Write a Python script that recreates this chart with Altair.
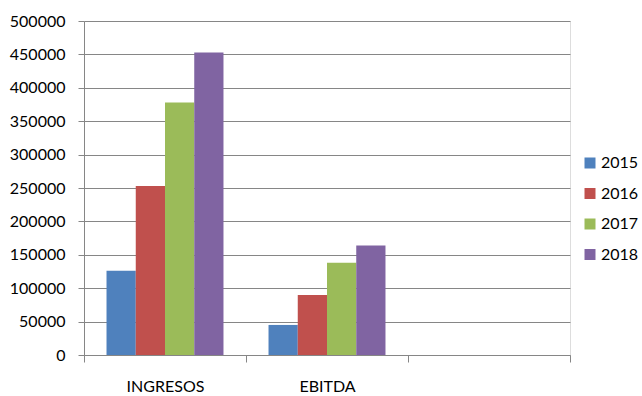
import altair as alt
import pandas as pd

categories = ["INGRESOS", "EBITDA"]
years = ["2015", "2016", "2017", "2018"]
ingresos = [126000, 253000, 378000, 453000]
ebitda = [45000, 90000, 138000, 164000]
colors = ["#4F81BD", "#C0504D", "#9BBB59", "#8064A2"]
x_domain = ["INGRESOS", "EBITDA", " "]
y_ticks = [0, 50000, 100000, 150000, 200000, 250000, 300000, 350000, 400000, 450000, 500000]

rows = []
for cat, vals in zip(categories, [ingresos, ebitda]):
    for yr, v in zip(years, vals):
        rows.append({"cat": cat, "year": yr, "value": v})
df = pd.DataFrame(rows)

FONT = "Lato"
GRID = "#868686"

chart = alt.Chart(df).mark_bar().encode(
    x=alt.X(
        "cat:N",
        scale=alt.Scale(domain=x_domain, paddingInner=0, paddingOuter=0),
        axis=alt.Axis(
            title=None, labelAngle=0, tickBand="extent", grid=False,
            domainColor=GRID, tickColor=GRID, tickSize=7,
            labelFont=FONT, labelFontSize=16, labelColor="#000000",
            labelPadding=16,
        ),
    ),
    xOffset=alt.XOffset("year:N", scale=alt.Scale(domain=years, paddingInner=0, paddingOuter=0.77)),
    y=alt.Y(
        "value:Q",
        scale=alt.Scale(domain=[0, 500000], nice=False),
        axis=alt.Axis(
            title=None, values=y_ticks, format="d", grid=True, gridColor=GRID,
            domainColor=GRID, tickColor=GRID, tickSize=6,
            labelFont=FONT, labelFontSize=16, labelColor="#000000",
            labelPadding=13,
        ),
    ),
    color=alt.Color(
        "year:N",
        scale=alt.Scale(domain=years, range=colors),
        legend=alt.Legend(
            title=None, orient="none", legendX=498, legendY=134,
            symbolType="square", symbolSize=121, symbolStrokeWidth=0,
            labelFont=FONT, labelFontSize=16, labelColor="#000000",
            rowPadding=14.5, labelOffset=3,
        ),
    ),
).properties(
    width=486, height=334,
    autosize=alt.AutoSizeParams(type="none"),
    padding={"left": 84, "top": 21, "right": 72, "bottom": 41},
).configure_view(stroke=None).configure(background="white")

chart.save("out.html", embed_options={"renderer": "svg", "actions": False})
